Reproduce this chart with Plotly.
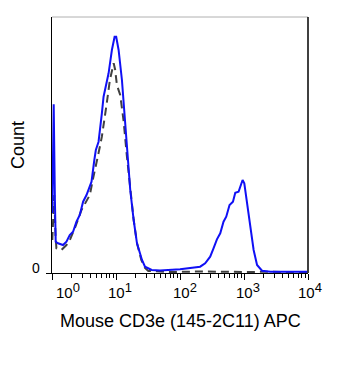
import math
import plotly.graph_objects as go

# ---- data (x: APC intensity, y: count) ----
stained_x = [1.01, 1.063, 1.11, 1.143, 1.242, 1.486, 1.682, 1.894, 2.134, 2.413, 2.718, 3.062,
             3.461, 4.146, 4.586, 4.842, 5.338, 5.654, 6.012, 6.391, 6.771, 7.656, 8.626, 9.51,
             10.07, 10.98, 12.38, 13.94, 15.37, 16.70, 18.88, 21.27, 25.47, 28.38, 36.14, 48.75,
             100.4, 143.9, 206.5, 247.3, 296.3, 333.9, 377.5, 425.3, 478.6, 528.0, 594.3, 672.3,
             730.4, 822.6, 874.9, 950.6, 1011, 1115, 1255, 1414, 1599, 1914, 2583, 9708]
stained_y = [60, 168.7, 73, 31.3, 29.7, 28, 31.3, 38, 41.3, 51.3, 58, 71.3,
             78, 91.3, 113, 123, 131.3, 143, 159.7, 176.3, 183, 199.7, 223, 236.3,
             236.3, 223, 193, 146.3, 109.7, 83, 53, 29.7, 13, 6.3, 3, 2.5,
             3.7, 4.7, 6.3, 9.7, 16.3, 24.7, 33.7, 39.7, 51.3, 56.3, 68, 71.3,
             80.3, 81.3, 86.3, 93, 89.7, 69.7, 46.3, 23, 8, 2.3, 1.3, 1.3]

control_x = [1.011, 1.083, 1.135, 1.172, 1.404, 1.682, 1.929, 2.269, 2.889, 3.898, 4.391, 4.72,
             5.30, 6.012, 6.771, 7.147, 8.025, 9.204, 9.716, 10.33, 11.64, 13.15, 14.82, 16.70,
             18.88, 21.27, 24.83, 28.38, 31.97, 69.97, 206.5, 1255, 1914, 9900]
control_y = [33, 78, 38, 24.7, 23, 28, 34, 44.7, 63, 78, 94.7, 103,
             119, 136.3, 156.3, 169, 193, 209.7, 203, 188, 178, 152, 116.3, 86.3,
             53, 30, 13, 5, 2, 1, 1.5, 1, 1.2, 1]

major_ticks = [1, 10, 100, 1000, 10000]
major_exponents = ["0", "1", "2", "3", "4"]
minor_ticks = [m * d for d in [1, 10, 100, 1000] for m in range(2, 10)]

FONT = "Arial, Liberation Sans, sans-serif"

fig = go.Figure()
fig.add_trace(go.Scatter(x=control_x, y=control_y, mode="lines",
                         line=dict(color="#404040", width=2, dash="8px,5px"),
                         hoverinfo="skip"))
fig.add_trace(go.Scatter(x=stained_x, y=stained_y, mode="lines",
                         line=dict(color="#1010f5", width=2),
                         hoverinfo="skip"))

fig.update_layout(
    width=351, height=367,
    margin=dict(l=52, r=43, t=17, b=94),
    paper_bgcolor="white", plot_bgcolor="white",
    showlegend=False,
    font=dict(family=FONT, size=15, color="black"),
)
fig.update_xaxes(
    type="log", range=[0, 4],
    showgrid=False, zeroline=False,
    showline=True, linecolor="black", linewidth=1,
    ticks="outside", ticklen=6, tickcolor="black", tickwidth=1,
    tickvals=major_ticks, showticklabels=False,
    minor=dict(ticks="outside", ticklen=4, tickcolor="black", tickwidth=1, tickvals=minor_ticks, showgrid=False),
)
fig.update_yaxes(
    range=[0, 256],
    showgrid=False, zeroline=False,
    showline=True, linecolor="black", linewidth=1,
    ticks="outside", ticklen=5, tickcolor="black",
    tickvals=[0], showticklabels=False,
)
# top and right frame
fig.add_shape(type="line", xref="paper", yref="paper", x0=0, x1=1, y0=1, y1=1,
              line=dict(color="#b0b0b0", width=1))
fig.add_shape(type="line", xref="paper", yref="paper", x0=1, x1=1, y0=0, y1=1,
              line=dict(color="black", width=1.5))

shifts = [16, 4, 5, 4, 2]
for v, ex, s in zip(major_ticks, major_exponents, shifts):
    lab = "10<sup><span style='font-size:13px'>" + ex + "</span></sup>"
    fig.add_annotation(x=math.log10(v), xref="x", y=0, yref="paper", text=lab,
                       showarrow=False, xanchor="center", yanchor="top",
                       xshift=s, yshift=-5, font=dict(size=15, family=FONT))

fig.add_annotation(x=0, xref="paper", y=0, yref="y", text="0", showarrow=False,
                   xanchor="right", yanchor="middle", xshift=-10, yshift=5,
                   font=dict(size=14, family=FONT))
fig.add_annotation(x=0.5, xref="paper", y=0, yref="paper", text="Mouse CD3e (145-2C11) APC",
                   showarrow=False, xanchor="center", yanchor="middle", yshift=-48,
                   font=dict(size=18, family=FONT))
fig.add_annotation(x=0, xref="paper", y=0.5, yref="paper", text="Count", textangle=-90,
                   showarrow=False, xanchor="center", yanchor="middle", xshift=-34,
                   font=dict(size=18, family=FONT))

fig.write_html("out.html")
